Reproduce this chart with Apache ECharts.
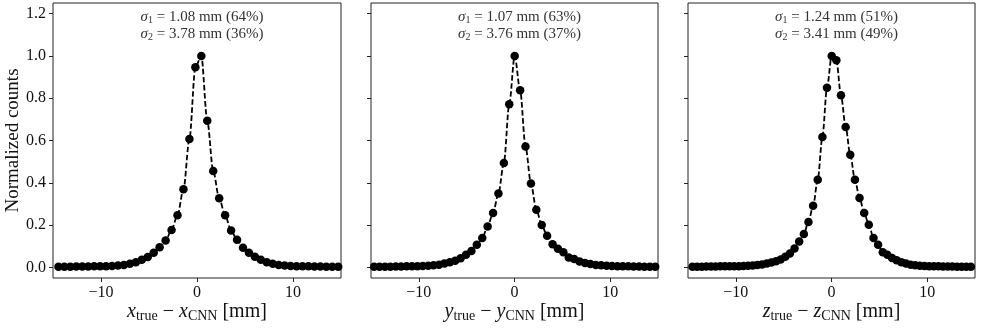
<!DOCTYPE html>
<html>
<head>
<meta charset="utf-8">
<script src="https://cdn.jsdelivr.net/npm/echarts@6.0.0/dist/echarts.min.js"></script>
<style>
  html, body { margin: 0; padding: 0; background: #fff; }
  #chart { width: 987px; height: 329px; }
</style>
</head>
<body>
<div id="chart"></div>
<script>
const xTicks = [-10, 0, 10];
const yTicks = [0, 0.2, 0.4, 0.6, 0.8, 1.0, 1.2];

// residual bins (mm) and normalized counts
const binsX = [-14.43, -13.81, -13.19, -12.57, -11.95, -11.33, -10.71, -10.09, -9.47, -8.85,
  -8.23, -7.61, -6.99, -6.37, -5.75, -5.13, -4.51, -3.89, -3.27, -2.65,
  -2.03, -1.41, -0.79, -0.17, 0.45, 1.07, 1.69, 2.31, 2.93, 3.55,
  4.17, 4.79, 5.41, 6.03, 6.65, 7.27, 7.89, 8.51, 9.13, 9.75,
  10.37, 10.99, 11.61, 12.23, 12.85, 13.47, 14.09, 14.71];
const countsX = [0.003, 0.003, 0.003, 0.004, 0.004, 0.004, 0.005, 0.005, 0.006, 0.007,
  0.009, 0.012, 0.017, 0.025, 0.036, 0.049, 0.069, 0.095, 0.127, 0.177,
  0.247, 0.369, 0.607, 0.946, 1.000, 0.693, 0.456, 0.327, 0.247, 0.175,
  0.131, 0.093, 0.069, 0.050, 0.036, 0.025, 0.017, 0.012, 0.009, 0.007,
  0.006, 0.005, 0.005, 0.004, 0.004, 0.003, 0.003, 0.003];

const binsY = [-14.67, -14.11, -13.54, -12.98, -12.41, -11.85, -11.28, -10.72, -10.15, -9.59,
  -9.02, -8.46, -7.89, -7.33, -6.76, -6.20, -5.63, -5.07, -4.50, -3.94,
  -3.37, -2.81, -2.24, -1.68, -1.11, -0.55, 0.02, 0.59, 1.15, 1.72,
  2.28, 2.85, 3.41, 3.98, 4.54, 5.11, 5.67, 6.24, 6.80, 7.37,
  7.93, 8.50, 9.06, 9.63, 10.19, 10.76, 11.32, 11.89, 12.45, 13.02,
  13.58, 14.15, 14.71];
const countsY = [0.003, 0.003, 0.003, 0.003, 0.004, 0.004, 0.005, 0.005, 0.006, 0.007,
  0.008, 0.010, 0.013, 0.018, 0.024, 0.032, 0.043, 0.060, 0.078, 0.107,
  0.139, 0.193, 0.257, 0.350, 0.494, 0.771, 1.000, 0.837, 0.572, 0.397,
  0.273, 0.200, 0.150, 0.110, 0.088, 0.072, 0.047, 0.040, 0.028, 0.021,
  0.016, 0.012, 0.010, 0.008, 0.007, 0.006, 0.005, 0.005, 0.004, 0.004,
  0.003, 0.003, 0.003];

const binsZ = [-14.53, -14.05, -13.56, -13.08, -12.59, -12.11, -11.62, -11.14, -10.65, -10.17,
  -9.68, -9.20, -8.71, -8.23, -7.74, -7.26, -6.77, -6.29, -5.80, -5.32,
  -4.83, -4.35, -3.86, -3.38, -2.89, -2.41, -1.92, -1.44, -0.95, -0.47,
  0.02, 0.51, 0.99, 1.48, 1.96, 2.45, 2.93, 3.42, 3.90, 4.39,
  4.87, 5.36, 5.84, 6.33, 6.81, 7.30, 7.78, 8.27, 8.75, 9.24,
  9.72, 10.21, 10.69, 11.18, 11.66, 12.15, 12.63, 13.12, 13.60, 14.09,
  14.57];
const countsZ = [0.003, 0.003, 0.003, 0.004, 0.004, 0.004, 0.005, 0.005, 0.005, 0.006,
  0.006, 0.007, 0.008, 0.009, 0.011, 0.014, 0.018, 0.023, 0.029, 0.038,
  0.050, 0.066, 0.090, 0.123, 0.158, 0.215, 0.291, 0.415, 0.617, 0.849,
  1.000, 0.979, 0.814, 0.664, 0.533, 0.415, 0.328, 0.257, 0.202, 0.139,
  0.107, 0.072, 0.060, 0.044, 0.034, 0.025, 0.018, 0.013, 0.010, 0.008,
  0.007, 0.006, 0.005, 0.005, 0.004, 0.004, 0.004, 0.003, 0.003, 0.003,
  0.003];

const coords = ['x', 'y', 'z'];
const sigma1 = ['1.08', '1.07', '1.24'];
const frac1 = ['64%', '63%', '51%'];
const sigma2 = ['3.78', '3.76', '3.41'];
const frac2 = ['36%', '37%', '49%'];

const panels = [
  { bins: binsX, counts: countsX, left: 53, width: 288 },
  { bins: binsY, counts: countsY, left: 371, width: 287 },
  { bins: binsZ, counts: countsZ, left: 688, width: 287 }
];

const FONT = 'Liberation Serif';
const INK = '#111';

const chart = echarts.init(document.getElementById('chart'));

const subRich = {
  i: { fontFamily: FONT, fontStyle: 'italic', fontSize: 20, color: INK },
  s: { fontFamily: FONT, fontSize: 14, color: INK, padding: [9, 0, 0, 0] },
  t: { fontFamily: FONT, fontSize: 20, color: INK }
};

const annRich = {
  g: { fontFamily: FONT, fontStyle: 'italic', fontWeight: 'normal', fontSize: 15, color: '#333' },
  n: { fontFamily: FONT, fontWeight: 'normal', fontSize: 10, color: '#333', padding: [6, 0, 0, 0] },
  t: { fontFamily: FONT, fontWeight: 'normal', fontSize: 15, color: '#333' }
};

const option = {
  animation: false,
  backgroundColor: '#fff',
  title: panels.map((p, i) => ({
    text: `{g|σ}{n|1}{t| = ${sigma1[i]} mm (${frac1[i]})}\n{g|σ}{n|2}{t| = ${sigma2[i]} mm (${frac2[i]})}`,
    left: p.left + p.width / 2,
    top: 4,
    textAlign: 'center',
    textStyle: { rich: annRich, fontWeight: 'normal', lineHeight: 17 }
  })),
  grid: panels.map(p => ({
    left: p.left, width: p.width, top: 3, height: 275,
    outerBoundsMode: 'none',
    containLabel: false,
    show: true, borderColor: '#222', borderWidth: 1, backgroundColor: 'transparent'
  })),
  xAxis: panels.map((p, i) => ({
    type: 'value',
    gridIndex: i,
    min: -15, max: 15,
    splitLine: { show: false },
    axisLine: { show: false, onZero: false },
    axisTick: { show: true, inside: false, length: 4, customValues: xTicks, lineStyle: { color: '#222' } },
    axisLabel: {
      customValues: xTicks,
      margin: 7,
      fontFamily: FONT, fontSize: 16, color: INK,
      formatter: v => String(v).replace('-', '\u2212')
    },
    name: `{i|${coords[i]}}{s|true}{t| \u2212 }{i|${coords[i]}}{s|CNN}{t| [mm]}`,
    nameLocation: 'middle',
    nameMoveOverlap: false,
    nameGap: 22,
    nameTextStyle: { rich: subRich }
  })),
  yAxis: panels.map((p, i) => ({
    type: 'value',
    gridIndex: i,
    min: -0.05, max: 1.25,
    splitLine: { show: false },
    axisLine: { show: false, onZero: false },
    axisTick: { show: true, inside: false, length: 4, customValues: yTicks, lineStyle: { color: '#222' } },
    axisLabel: {
      show: i === 0,
      customValues: yTicks,
      margin: 7,
      fontFamily: FONT, fontSize: 16, color: INK,
      formatter: v => v.toFixed(1)
    },
    name: i === 0 ? 'Normalized counts' : '',
    nameLocation: 'middle',
    nameRotate: 90,
    nameGap: 28,
    nameTextStyle: { fontFamily: FONT, fontSize: 19, color: INK }
  })),
  series: panels.flatMap((p, i) => {
    const pts = p.bins.map((b, j) => [b, p.counts[j]]);
    return [
      {
        type: 'scatter',
        xAxisIndex: i, yAxisIndex: i,
        data: pts,
        symbol: 'circle',
        symbolSize: 8.5,
        itemStyle: { color: '#000', opacity: 1 },
        z: 2
      },
      {
        type: 'line',
        xAxisIndex: i, yAxisIndex: i,
        data: pts,
        showSymbol: false,
        smooth: 0.3,
        smoothMonotone: 'x',
        lineStyle: { color: '#000', width: 1.8, type: [5.5, 2.5] },
        z: 3
      }
    ];
  })
};

chart.setOption(option);
</script>
</body>
</html>
